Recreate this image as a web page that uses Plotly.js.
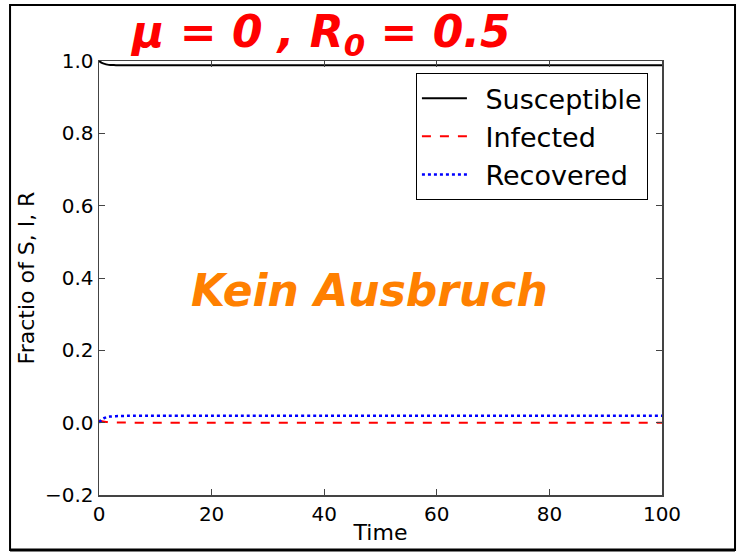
<!DOCTYPE html>
<html>
<head>
<meta charset="utf-8">
<script src="https://cdn.plot.ly/plotly-3.0.1.min.js"></script>
<style>html,body{margin:0;padding:0;background:#fff;}#chart{width:741px;height:556px;}</style>
</head>
<body>
<div id="chart"></div>
<script>
// Time points
var time = [0, 0.5, 1, 1.5, 2, 3, 4, 5, 6, 8, 10, 20, 40, 60, 80, 100];
// Series values (fractions)
var susceptible = [1.0, 0.995, 0.992, 0.990, 0.989, 0.9885, 0.988, 0.988, 0.988, 0.988, 0.988, 0.988, 0.988, 0.988, 0.988, 0.988];
var infected    = [0.006, 0.004, 0.0025, 0.0015, 0.001, 0.0005, 0.0002, 0.0001, 0, 0, 0, 0, 0, 0, 0, 0];
var recovered   = [0.0, 0.008, 0.013, 0.016, 0.017, 0.018, 0.0185, 0.019, 0.019, 0.019, 0.019, 0.019, 0.019, 0.019, 0.019, 0.019];
var seriesNames = ["Susceptible", "Infected", "Recovered"];
var xTicks = [0, 20, 40, 60, 80, 100];
var yTicks = [-0.2, 0.0, 0.2, 0.4, 0.6, 0.8, 1.0];
var noteTop = "μ = 0 , R<sub>0</sub> = 0.5";
var noteMid = "Kein Ausbruch";

var font = "DejaVu Sans, sans-serif";
var pad = "\u2002";
var traces = [
  {x: time, y: susceptible, name: pad + seriesNames[0], legendgroup: "s", mode: "lines", line: {color: "#000000", width: 2, dash: "solid", shape: "spline"}},
  {x: time, y: infected, name: pad + seriesNames[1], legendgroup: "i", mode: "lines", line: {color: "#ff0000", width: 2, dash: "dash", shape: "spline"}},
  {x: time, y: recovered, name: pad + seriesNames[2], legendgroup: "r", mode: "lines", line: {color: "#0000ff", width: 2.5, dash: "dot", shape: "spline"}}
];

var axisCommon = {
  showgrid: false, zeroline: false, showline: true, mirror: "ticks",
  linecolor: "#444", linewidth: 1.5, ticks: "inside", ticklen: 6, tickwidth: 1,
  tickcolor: "#444", tickfont: {family: font, size: 20, color: "#000"}
};

var layout = {
  width: 741, height: 556,
  margin: {l: 99, r: 79, t: 61, b: 61, pad: 0},
  paper_bgcolor: "#ffffff", plot_bgcolor: "#ffffff",
  font: {family: font, color: "#000"},
  showlegend: true,
  legend: {
    x: 0.975, y: 0.972, xanchor: "right", yanchor: "top",
    bgcolor: "#ffffff", bordercolor: "#000", borderwidth: 1,
    font: {family: font, size: 27, color: "#000"},
    itemwidth: 45, tracegroupgap: 5, traceorder: "normal"
  },
  xaxis: Object.assign({}, axisCommon, {
    range: [0, 100], tickmode: "array", tickvals: xTicks,
    ticktext: xTicks.map(function(v){return String(v);}),
    title: {text: "Time", font: {family: font, size: 22, color: "#000"}, standoff: 0}
  }),
  yaxis: Object.assign({}, axisCommon, {
    range: [-0.2, 1.0], tickmode: "array", tickvals: yTicks,
    ticktext: yTicks.map(function(v){return (v < 0 ? "\u2212" : "") + Math.abs(v).toFixed(1);}),
    title: {text: "Fractio of S, I, R", font: {family: font, size: 22, color: "#000"}, standoff: 4}
  }),
  annotations: [
    {xref: "paper", yref: "paper", x: 0.393, y: 1.06, xanchor: "center", yanchor: "middle",
     text: noteTop, showarrow: false,
     font: {family: font, size: 44, color: "#ff0000", style: "italic", weight: "bold"}},
    {xref: "paper", yref: "paper", x: 0.481, y: 0.472, xanchor: "center", yanchor: "middle",
     text: noteMid, showarrow: false,
     font: {family: font, size: 44, color: "#ff8000", style: "italic", weight: "bold"}}
  ],
  shapes: [
    {type: "rect", xref: "paper", yref: "paper", x0: -0.158, x1: 1.1297, y0: -0.1267, y1: 1.129,
     line: {color: "#000", width: 2}, fillcolor: "rgba(0,0,0,0)", layer: "below"},
    {type: "line", xref: "paper", yref: "paper", x0: -0.158, x1: 1.1297, y0: -0.1267, y1: -0.1267,
     line: {color: "#000", width: 3}}
  ]
};

Plotly.newPlot("chart", traces, layout, {displayModeBar: false, staticPlot: true});
</script>
</body>
</html>
